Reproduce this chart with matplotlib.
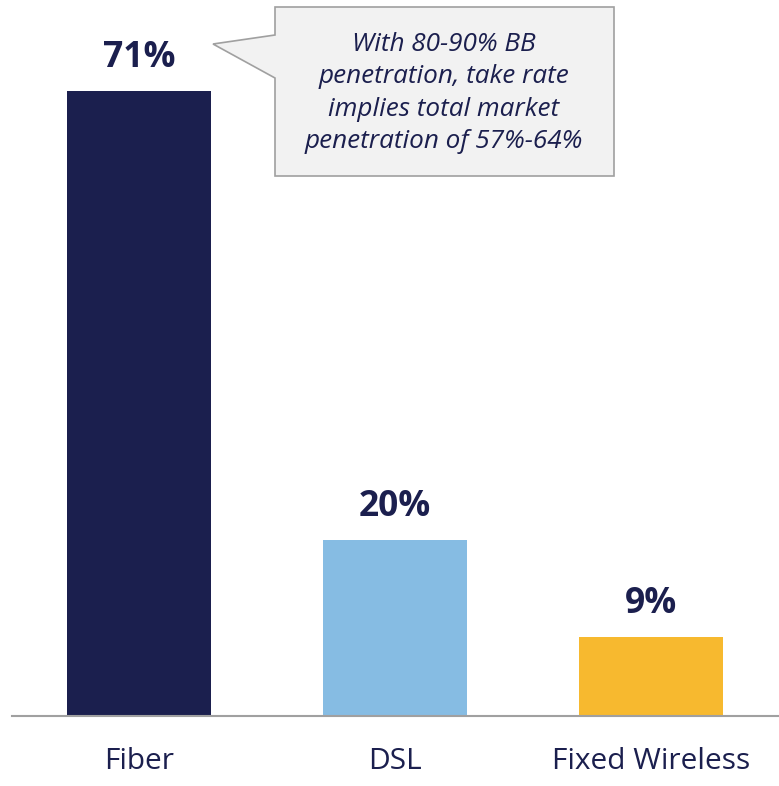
import matplotlib.pyplot as plt
from matplotlib.patches import Polygon

categories = ["Fiber", "DSL", "Fixed Wireless"]
values = [71, 20, 9]
value_labels = ["71%", "20%", "9%"]
callout_text = "With 80-90% BB\npenetration, take rate\nimplies total market\npenetration of 57%-64%"

colors = ["#1B1F4E", "#86BCE3", "#F7B92F"]
navy = "#1B1F4E"
W, H = 779, 786

plt.rcParams['font.family'] = ['Open Sans', 'DejaVu Sans']

fig = plt.figure(figsize=(W / 100, H / 100), dpi=100)
ax = fig.add_axes([12 / W, (H - 716) / H, 767 / W, 704 / H])

x = list(range(len(categories)))
bars = ax.bar(x, values, width=0.5625, color=colors)
ax.set_xlim(-0.496, 2.5)
ax.set_ylim(0, 80)

# valori sopra le barre
for bar, lab in zip(bars, value_labels):
    ax.annotate(lab, (bar.get_x() + bar.get_width() / 2, bar.get_height()),
                xytext=(0, 11), textcoords="offset points", ha="center", va="bottom",
                fontsize=25.5, fontweight="bold", color=navy)

ax.set_xticks(x)
ax.set_xticklabels(categories, fontsize=21.5, color=navy)
ax.tick_params(axis="x", length=0, pad=22)
ax.set_yticks([])
for s in ["top", "right", "left"]:
    ax.spines[s].set_visible(False)
ax.spines["bottom"].set_color("#A0A0A0")
ax.spines["bottom"].set_linewidth(1.5)

# fumetto (coordinate in pixel della figura)
pts = [(275, 7), (614, 7), (614, 176), (275, 176), (275, 78), (213, 44), (275, 35)]
pts = [(px / W, 1 - py / H) for px, py in pts]
fig.patches.append(Polygon(pts, closed=True, transform=fig.transFigure,
                           facecolor="#F2F2F2", edgecolor="#A0A0A0", linewidth=1.2))
fig.text(444 / W, 1 - 93 / H, callout_text, ha="center", va="center", fontsize=18.8,
         style="italic", color=navy, linespacing=1.38)

fig.savefig("out.png", dpi=100)
